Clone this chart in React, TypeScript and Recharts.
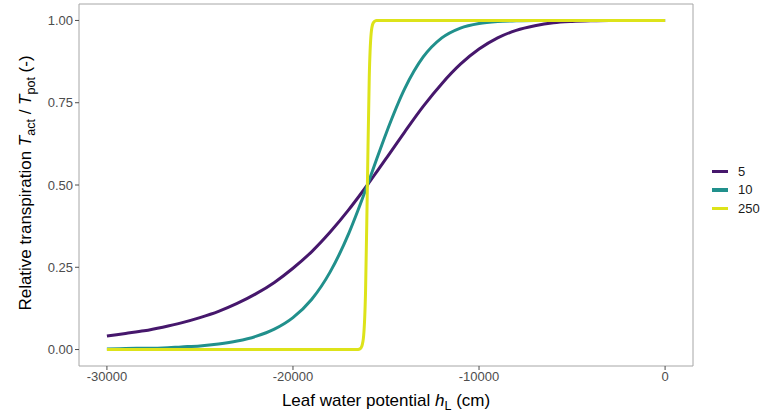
import { LineChart, Line, XAxis, YAxis, ReferenceArea } from "recharts";

// Leaf water potential grid (cm) for the two smoother curves.
const hCoarse = [
  -30000, -29000, -28000, -27000, -26000, -25000, -24000, -23000, -22000, -21000, -20000,
  -19000, -18000, -17000, -16500, -16000, -15500, -15000, -14000, -13000, -12000, -11000,
  -10000, -9000, -8000, -7000, -6000, -5000, -4000, -3000, -2000, -1000, 0,
];

// Relative transpiration, p = 5
const tRel5 = [
  0.041, 0.049, 0.057, 0.068, 0.081, 0.097, 0.116, 0.14, 0.169, 0.204, 0.247,
  0.297, 0.357, 0.425, 0.462, 0.5, 0.54, 0.58, 0.661, 0.739, 0.808, 0.867,
  0.913, 0.947, 0.97, 0.984, 0.993, 0.997, 0.999, 1, 1, 1, 1,
];

// p = 10
const tRel10 = [
  0.002, 0.003, 0.004, 0.005, 0.008, 0.011, 0.017, 0.026, 0.04, 0.062, 0.097,
  0.152, 0.236, 0.353, 0.424, 0.5, 0.579, 0.656, 0.792, 0.889, 0.947, 0.977,
  0.991, 0.997, 0.999, 1, 1, 1, 1, 1, 1, 1, 1,
];

// the steep one needs a finer grid around the midpoint
const hFine = [
  -30000, -20000, -17000, -16500, -16400, -16300, -16200, -16100, -16000,
  -15900, -15800, -15700, -15600, -15500, -15000, -10000, 0,
];

// p = 250
const tRel250 = [
  0, 0, 0, 0.0005, 0.002, 0.01, 0.043, 0.174, 0.5,
  0.827, 0.959, 0.991, 0.998, 1, 1, 1, 1,
];

const SERIES = [
  { name: "5", color: "#46176c", h: hCoarse, t: tRel5 },
  { name: "10", color: "#21908c", h: hCoarse, t: tRel10 },
  { name: "250", color: "#dde31a", h: hFine, t: tRel250 },
];

const xTicks = [-30000, -20000, -10000, 0];
const yTicks = [0, 0.25, 0.5, 0.75, 1];

const FONT = "'Liberation Sans', Arial, sans-serif";

function LegendBox() {
  return (
    <div style={{ position: "absolute", left: 712, top: 162, fontFamily: FONT, fontSize: 13, color: "#1a1a1a" }}>
      {SERIES.map((s) => (
        <div key={s.name} style={{ display: "flex", alignItems: "center", height: 18.5 }}>
          <div style={{ width: 16, height: 3.5, background: s.color, marginRight: 10 }} />
          <span>{s.name}</span>
        </div>
      ))}
    </div>
  );
}

function YTitle() {
  return (
    <text
      transform="translate(31,183) rotate(-90)"
      textAnchor="middle"
      fontFamily={FONT}
      fontSize={17}
      fill="#000"
    >
      Relative transpiration{" "}
      <tspan fontStyle="italic">T</tspan>
      <tspan fontSize={12.5} dy={4}>act</tspan>
      <tspan dy={-4}> / </tspan>
      <tspan fontStyle="italic">T</tspan>
      <tspan fontSize={12.5} dy={4}>pot</tspan>
      <tspan dy={-4}> (-)</tspan>
    </text>
  );
}

function XTitle() {
  return (
    <text x={386} y={406} textAnchor="middle" fontFamily={FONT} fontSize={17} fill="#000">
      Leaf water potential <tspan fontStyle="italic">h</tspan>
      <tspan fontSize={12.5} dy={3.5}>L</tspan>
      <tspan dy={-3.5}> (cm)</tspan>
    </text>
  );
}

export default function App() {
  const tickStyle = { fill: "#4d4d4d", fontSize: 13, fontFamily: FONT };
  return (
    <div style={{ position: "absolute", left: 0, top: 0, width: 769, height: 414, background: "#fff" }}>
      <LineChart width={769} height={414} margin={{ top: 4, right: 76, bottom: 0, left: 0 }}>
        <XAxis
          type="number"
          dataKey="h"
          domain={[-31500, 1500]}
          ticks={xTicks}
          allowDataOverflow
          tick={tickStyle}
          tickSize={4}
          tickMargin={2}
          tickLine={{ stroke: "#4d4d4d" }}
          axisLine={false}
          height={48}
          label={<XTitle />}
        />
        <YAxis
          type="number"
          domain={[-0.05, 1.05]}
          ticks={yTicks}
          allowDataOverflow
          tickFormatter={(v: number) => v.toFixed(2)}
          tick={tickStyle}
          tickSize={4}
          tickMargin={2}
          tickLine={{ stroke: "#4d4d4d" }}
          axisLine={false}
          width={79}
          label={<YTitle />}
        />
        <ReferenceArea
          x1={-31500}
          x2={1500}
          y1={-0.05}
          y2={1.05}
          fill="none"
          stroke="#a6a6a6"
          strokeWidth={1}
        />
        {SERIES.map((s) => (
          <Line
            key={s.name}
            name={s.name}
            data={s.h.map((h, i) => ({ h, t: s.t[i] }))}
            dataKey="t"
            type="monotone"
            stroke={s.color}
            strokeWidth={3}
            dot={false}
            isAnimationActive={false}
          />
        ))}
      </LineChart>
      <LegendBox />
    </div>
  );
}
